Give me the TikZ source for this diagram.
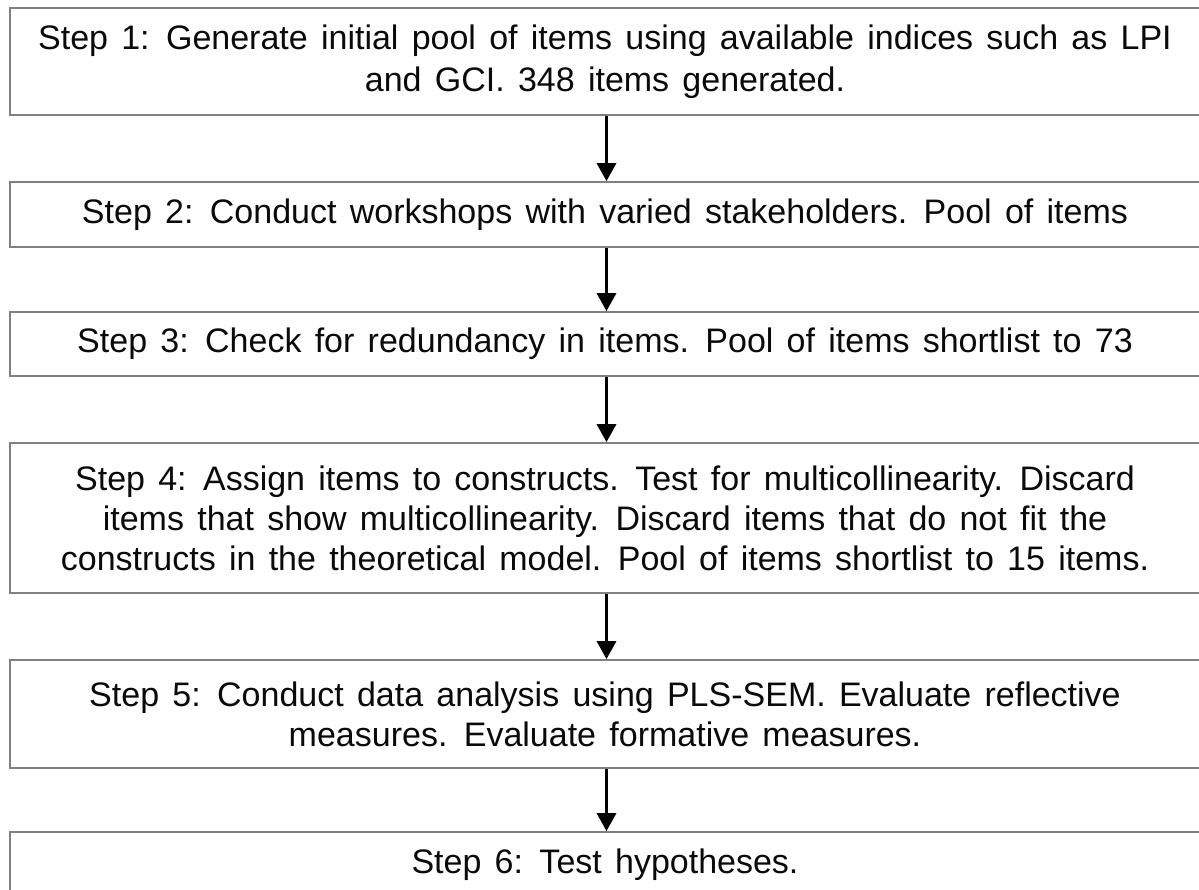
\documentclass[tikz,border=0pt]{standalone}
\usepackage{fontspec}
\setmainfont{Liberation Sans}
\usetikzlibrary{arrows.meta}
\definecolor{boxgray}{RGB}{128,128,128}
\definecolor{txt}{RGB}{10,10,10}
\tikzset{
  stepbox/.style={draw=boxgray, line width=1.7pt, rectangle, minimum width=1190pt,
    align=center, inner sep=0pt, text=txt, fill=white},
  flowarrow/.style={draw=black, line width=3.2pt, -{Triangle[width=19pt,length=18pt]}}
}
\newcommand{\stepfont}[1]{\fontsize{34}{#1}\selectfont\spaceskip=0.39em plus 0.1em\relax}
\begin{document}
\begin{tikzpicture}[x=1pt,y=-1pt]
\clip (0,0) rectangle (1199,890);
\fill[white] (0,0) rectangle (1199,890);
\node[stepbox, minimum height=107pt, font=\stepfont{42.6}] (b1) at (605,61.7)
  {Step 1: Generate initial pool of items using available indices such as LPI\\and GCI. 348 items generated.};
\node[stepbox, minimum height=65pt, font=\stepfont{40}] (b2) at (605,214.5)
  {Step 2: Conduct workshops with varied stakeholders. Pool of items};
\node[stepbox, minimum height=64pt, font=\stepfont{40}] (b3) at (605,344)
  {Step 3: Check for redundancy in items. Pool of items shortlist to 73};
\node[stepbox, minimum height=150pt, font=\stepfont{40}] (b4) at (605,518)
  {Step 4: Assign items to constructs. Test for multicollinearity. Discard\\items that show multicollinearity. Discard items that do not fit the\\constructs in the theoretical model. Pool of items shortlist to 15 items.};
\node[stepbox, minimum height=108pt, font=\stepfont{40}] (b5) at (605,714)
  {Step 5: Conduct data analysis using PLS-SEM. Evaluate reflective\\measures. Evaluate formative measures.};
\node[stepbox, minimum height=65pt, font=\stepfont{40}] (b6) at (605,864.5)
  {Step 6: Test hypotheses.};
\draw[flowarrow] ([xshift=1.5pt]b1.south) -- ([xshift=1.5pt]b2.north);
\draw[flowarrow] ([xshift=1.5pt]b2.south) -- ([xshift=1.5pt]b3.north);
\draw[flowarrow] ([xshift=1.5pt]b3.south) -- ([xshift=1.5pt]b4.north);
\draw[flowarrow] ([xshift=1.5pt]b4.south) -- ([xshift=1.5pt]b5.north);
\draw[flowarrow] ([xshift=1.5pt]b5.south) -- ([xshift=1.5pt]b6.north);
\end{tikzpicture}
\end{document}
